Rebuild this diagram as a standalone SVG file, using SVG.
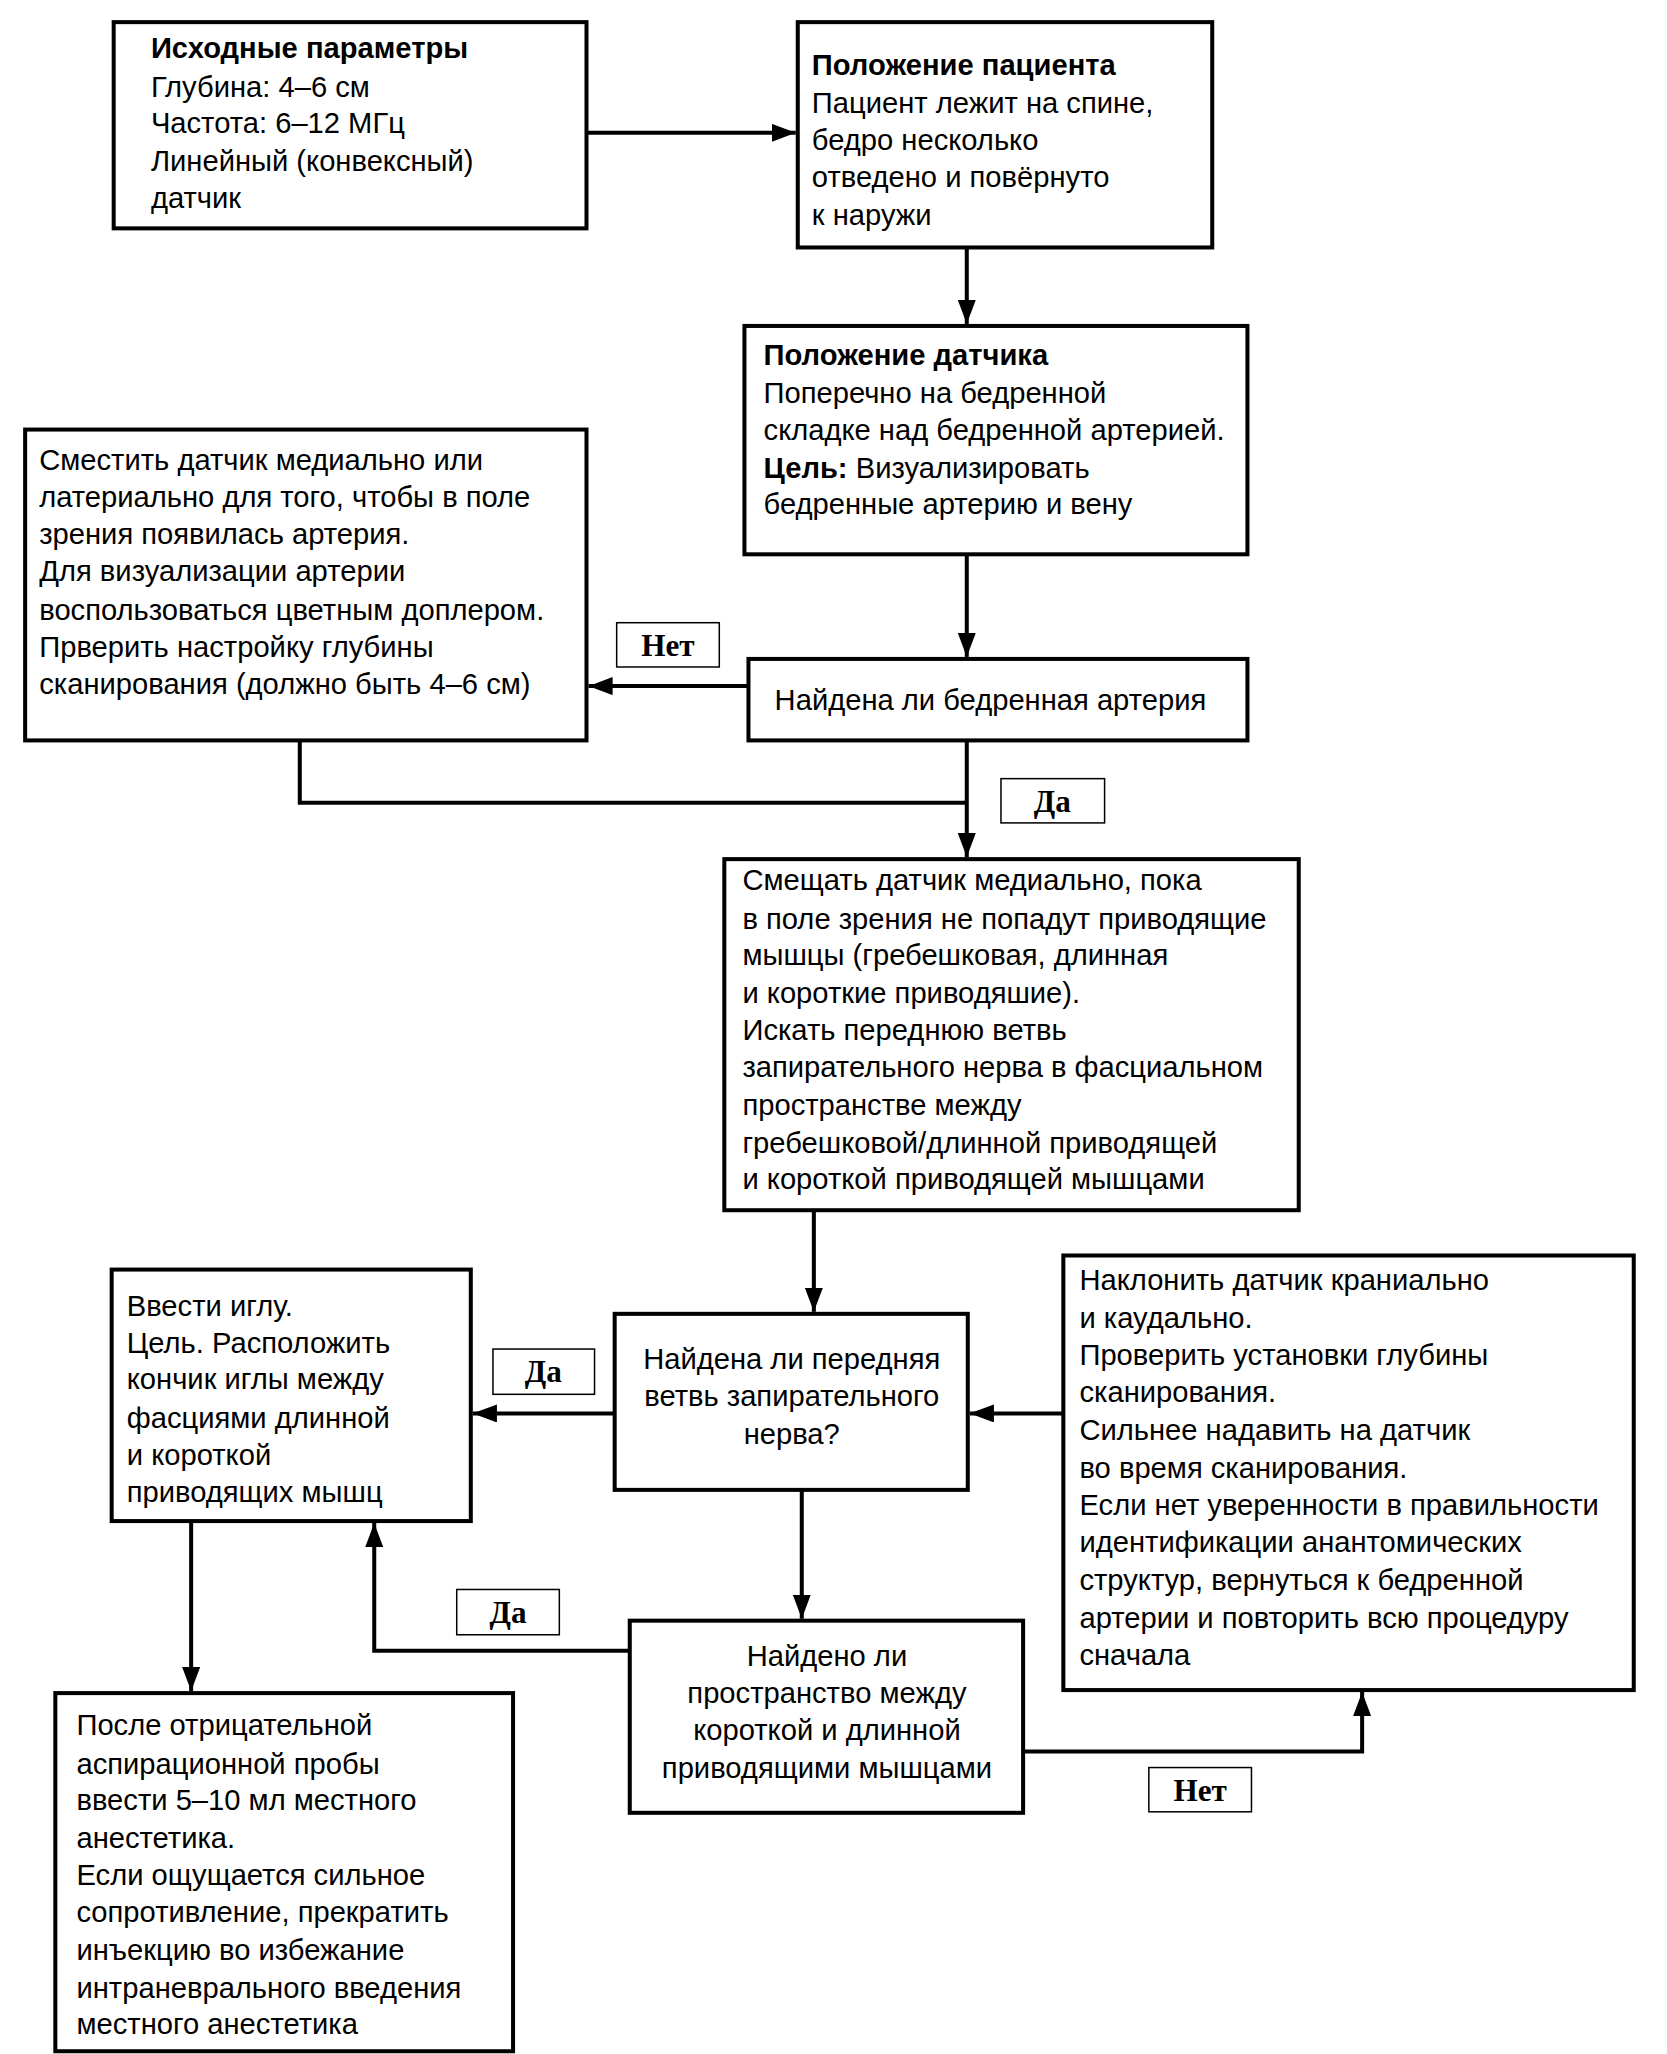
<svg xmlns="http://www.w3.org/2000/svg" width="1667" height="2054" viewBox="0 0 1667 2054">
<style>
.box{fill:#fff;stroke:#000;stroke-width:4}
.lbl{fill:#fff;stroke:#000;stroke-width:1.5}
.t{font-family:"Liberation Sans",Arial,sans-serif;font-size:29px;fill:#000}
.b{font-weight:bold}
.m{text-anchor:middle}
.lt{font-family:"Liberation Serif","Times New Roman",serif;font-weight:bold;font-size:31px;text-anchor:middle;fill:#000}
.c{fill:none;stroke:#000;stroke-width:4}
</style>
<defs>
<marker id="ah" markerUnits="userSpaceOnUse" markerWidth="24" markerHeight="18" refX="24" refY="9" orient="auto">
<path d="M0,0 L24,9 L0,18 z" fill="#000"/>
</marker>
</defs>
<rect width="1667" height="2054" fill="#fff"/>
<g transform="scale(1.006)">
<g id="connectors">
<path class="c" d="M583,132 H791" marker-end="url(#ah)"/>
<path class="c" d="M961,246 V322" marker-end="url(#ah)"/>
<path class="c" d="M961,551 V653" marker-end="url(#ah)"/>
<path class="c" d="M744,682 H585" marker-end="url(#ah)"/>
<path class="c" d="M298,736 V798 H961"/>
<path class="c" d="M961,736 V852" marker-end="url(#ah)"/>
<path class="c" d="M809,1203 V1304" marker-end="url(#ah)"/>
<path class="c" d="M611,1405 H470" marker-end="url(#ah)"/>
<path class="c" d="M1057,1405 H964" marker-end="url(#ah)"/>
<path class="c" d="M797,1481 V1609" marker-end="url(#ah)"/>
<path class="c" d="M626,1641 H372 V1514" marker-end="url(#ah)"/>
<path class="c" d="M1017,1741 H1354 V1682" marker-end="url(#ah)"/>
<path class="c" d="M190,1512 V1681" marker-end="url(#ah)"/>
</g>
<g id="labels">
<g id="lbl-net1"><rect class="lbl" x="613" y="619" width="102" height="44"/><text class="lt" x="664" y="652">Нет</text></g>
<g id="lbl-da1"><rect class="lbl" x="995" y="774" width="103" height="44"/><text class="lt" x="1046" y="807">Да</text></g>
<g id="lbl-da2"><rect class="lbl" x="490" y="1341" width="101" height="45"/><text class="lt" x="540" y="1374">Да</text></g>
<g id="lbl-da3"><rect class="lbl" x="454" y="1580" width="102" height="45"/><text class="lt" x="505" y="1613">Да</text></g>
<g id="lbl-net2"><rect class="lbl" x="1142" y="1757" width="102" height="44"/><text class="lt" x="1193" y="1790">Нет</text></g>
</g>
<g id="n1">
<rect class="box" x="113" y="22" width="470" height="205"/>
<text class="t b" x="150" y="58">Исходные параметры</text>
<text class="t" x="150" y="96">Глубина: 4–6 см</text>
<text class="t" x="150" y="132">Частота: 6–12 МГц</text>
<text class="t" x="150" y="170">Линейный (конвексный)</text>
<text class="t" x="150" y="207">датчик</text>
</g>
<g id="n2">
<rect class="box" x="793" y="22" width="412" height="224"/>
<text class="t b" x="807" y="75">Положение пациента</text>
<text class="t" x="807" y="112">Пациент лежит на спине,</text>
<text class="t" x="807" y="149">бедро несколько</text>
<text class="t" x="807" y="186">отведено и повёрнуто</text>
<text class="t" x="807" y="224">к наружи</text>
</g>
<g id="n3">
<rect class="box" x="740" y="324" width="500" height="227"/>
<text class="t b" x="759" y="363">Положение датчика</text>
<text class="t" x="759" y="401">Поперечно на бедренной</text>
<text class="t" x="759" y="437">складке над бедренной артерией.</text>
<text class="t" x="759" y="475"><tspan class="b">Цель:</tspan> Визуализировать</text>
<text class="t" x="759" y="511">бедренные артерию и вену</text>
</g>
<g id="n4">
<rect class="box" x="744" y="655" width="496" height="81"/>
<text class="t" x="770" y="706">Найдена ли бедренная артерия</text>
</g>
<g id="n5">
<rect class="box" x="25" y="427" width="558" height="309"/>
<text class="t" x="39" y="467">Сместить датчик медиально или</text>
<text class="t" x="39" y="504">латериально для того, чтобы в поле</text>
<text class="t" x="39" y="541">зрения появилась артерия.</text>
<text class="t" x="39" y="578">Для визуализации артерии</text>
<text class="t" x="39" y="616">воспользоваться цветным доплером.</text>
<text class="t" x="39" y="653">Прверить настройку глубины</text>
<text class="t" x="39" y="690">сканирования (должно быть 4–6 см)</text>
</g>
<g id="n6">
<rect class="box" x="720" y="854" width="571" height="349"/>
<text class="t" x="738" y="885">Смещать датчик медиально, пока</text>
<text class="t" x="738" y="923">в поле зрения не попадут приводящие</text>
<text class="t" x="738" y="959">мышцы (гребешковая, длинная</text>
<text class="t" x="738" y="997">и короткие приводяшие).</text>
<text class="t" x="738" y="1034">Искать переднюю ветвь</text>
<text class="t" x="738" y="1071">запирательного нерва в фасциальном</text>
<text class="t" x="738" y="1108">пространстве между</text>
<text class="t" x="738" y="1146">гребешковой/длинной приводящей</text>
<text class="t" x="738" y="1182">и короткой приводящей мышцами</text>
</g>
<g id="n7">
<rect class="box" x="611" y="1306" width="351" height="175"/>
<text class="t m" x="787" y="1361">Найдена ли передняя</text>
<text class="t m" x="787" y="1398">ветвь запирательного</text>
<text class="t m" x="787" y="1435">нерва?</text>
</g>
<g id="n8">
<rect class="box" x="111" y="1262" width="357" height="250"/>
<text class="t" x="126" y="1308">Ввести иглу.</text>
<text class="t" x="126" y="1345">Цель. Расположить</text>
<text class="t" x="126" y="1381">кончик иглы между</text>
<text class="t" x="126" y="1419">фасциями длинной</text>
<text class="t" x="126" y="1456">и короткой</text>
<text class="t" x="126" y="1493">приводящих мышц</text>
</g>
<g id="n9">
<rect class="box" x="1057" y="1248" width="567" height="432"/>
<text class="t" x="1073" y="1282">Наклонить датчик краниально</text>
<text class="t" x="1073" y="1320">и каудально.</text>
<text class="t" x="1073" y="1357">Проверить установки глубины</text>
<text class="t" x="1073" y="1394">сканирования.</text>
<text class="t" x="1073" y="1431">Сильнее надавить на датчик</text>
<text class="t" x="1073" y="1469">во время сканирования.</text>
<text class="t" x="1073" y="1506">Если нет уверенности в правильности</text>
<text class="t" x="1073" y="1543">идентификации анантомических</text>
<text class="t" x="1073" y="1581">структур, вернуться к бедренной</text>
<text class="t" x="1073" y="1618">артерии и повторить всю процедуру</text>
<text class="t" x="1073" y="1655">сначала</text>
</g>
<g id="n10">
<rect class="box" x="626" y="1611" width="391" height="191"/>
<text class="t m" x="822" y="1656">Найдено ли</text>
<text class="t m" x="822" y="1693">пространство между</text>
<text class="t m" x="822" y="1730">короткой и длинной</text>
<text class="t m" x="822" y="1767">приводящими мышцами</text>
</g>
<g id="n11">
<rect class="box" x="55" y="1683" width="455" height="356"/>
<text class="t" x="76" y="1725">После отрицательной</text>
<text class="t" x="76" y="1763">аспирационной пробы</text>
<text class="t" x="76" y="1799">ввести 5–10 мл местного</text>
<text class="t" x="76" y="1837">анестетика.</text>
<text class="t" x="76" y="1874">Если ощущается сильное</text>
<text class="t" x="76" y="1911">сопротивление, прекратить</text>
<text class="t" x="76" y="1948">инъекцию во избежание</text>
<text class="t" x="76" y="1986">интраневрального введения</text>
<text class="t" x="76" y="2022">местного анестетика</text>
</g>
</g>
</svg>
